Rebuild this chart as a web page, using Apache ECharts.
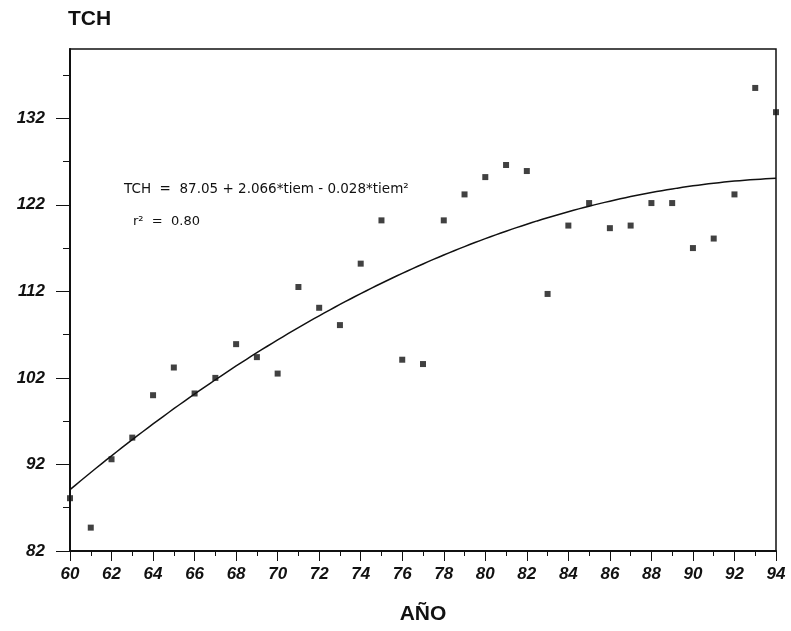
<!DOCTYPE html>
<html>
<head>
<meta charset="utf-8">
<title>TCH por año</title>
<script src="https://cdn.jsdelivr.net/npm/echarts@6/dist/echarts.min.js"></script>
<style>
  html, body { margin: 0; padding: 0; background: #fff; }
  #chart { width: 791px; height: 631px; }
</style>
</head>
<body>
<div id="chart"></div>
<script>
// Observed yield (TCH) per year, 1960–1994
const years = [60, 61, 62, 63, 64, 65, 66, 67, 68, 69, 70, 71, 72, 73, 74, 75, 76, 77,
               78, 79, 80, 81, 82, 83, 84, 85, 86, 87, 88, 89, 90, 91, 92, 93, 94];
const tch = [88.1, 84.7, 92.6, 95.1, 100.0, 103.2, 100.2, 102.0, 105.9, 104.4, 102.5, 112.5,
             110.1, 108.1, 115.2, 120.2, 104.1, 103.6, 120.2, 123.2, 125.2, 126.6, 125.9, 111.7,
             119.6, 122.2, 119.3, 119.6, 122.2, 122.2, 117.0, 118.1, 123.2, 135.5, 132.7];

// Quadratic fit: TCH = b0 + b1*tiem + b2*tiem^2, with tiem = year - 59
const fitCoef = [87.05, 2.066, -0.028];
const fitR2 = 0.80;
const tiemOrigin = 59;

// Axis tick values
const yMajorTicks = [82, 92, 102, 112, 122, 132];
const yMinorTicks = [87, 97, 107, 117, 127, 137];

const fitCurve = [];
for (let k = 0; k <= (years[years.length - 1] - years[0]) * 4; k++) {
  const yr = years[0] + k / 4;
  const t = yr - tiemOrigin;
  fitCurve.push([yr, fitCoef[0] + fitCoef[1] * t + fitCoef[2] * t * t]);
}

const fmt = (v, d) => Math.abs(v).toFixed(d);
const eqText = 'TCH  =  ' + fitCoef[0].toFixed(2) + ' + ' + fmt(fitCoef[1], 3) + '*tiem ' +
  (fitCoef[2] < 0 ? '-' : '+') + ' ' + fmt(fitCoef[2], 3) + '*tiem\u00B2';
const r2Text = 'r\u00B2  =  ' + fitR2.toFixed(2);

const tickFont = {
  color: '#111',
  fontFamily: 'Liberation Sans, Arial, sans-serif',
  fontWeight: 'bold',
  fontStyle: 'italic',
  fontSize: 17
};

const chart = echarts.init(document.getElementById('chart'), null, { renderer: 'canvas' });
chart.setOption({
  animation: false,
  backgroundColor: '#fff',
  title: {
    text: 'TCH',
    left: 68,
    top: 9,
    padding: 0,
    textStyle: { fontFamily: 'Liberation Sans, Arial, sans-serif', fontWeight: 'bold', fontSize: 21, color: '#111' }
  },
  grid: {
    left: 70, right: 15, top: 49, bottom: 80,
    show: true, borderColor: '#111', borderWidth: 1.5, backgroundColor: 'transparent'
  },
  xAxis: {
    type: 'value',
    min: 60, max: 94, interval: 2,
    name: 'AÑO',
    nameLocation: 'middle',
    nameGap: 53,
    nameTextStyle: { fontFamily: 'Liberation Sans, Arial, sans-serif', fontWeight: 'bold', fontSize: 21, color: '#111' },
    axisLine: { show: true, onZero: false, lineStyle: { color: '#111', width: 2 } },
    axisTick: { show: true, length: 10, lineStyle: { color: '#111', width: 1 } },
    minorTick: { show: true, splitNumber: 2, length: 5, lineStyle: { color: '#111', width: 1 } },
    splitLine: { show: false },
    axisLabel: Object.assign({ margin: 15 }, tickFont)
  },
  yAxis: [
    {
      type: 'value',
      min: 82, max: 140, interval: 10,
      axisLine: { show: true, onZero: false, lineStyle: { color: '#111', width: 2 } },
      axisTick: { show: true, length: 14, customValues: yMajorTicks, lineStyle: { color: '#111', width: 1 } },
      splitLine: { show: false },
      axisLabel: Object.assign({ margin: 25, customValues: yMajorTicks }, tickFont)
    },
    {
      type: 'value',
      min: 82, max: 140, interval: 10,
      position: 'left',
      axisLine: { show: false },
      axisTick: { show: true, length: 7, customValues: yMinorTicks, lineStyle: { color: '#111', width: 1 } },
      axisLabel: { show: false },
      splitLine: { show: false }
    }
  ],
  graphic: [
    {
      type: 'text', left: 124, top: 182,
      style: { text: eqText, fill: '#111', font: '13.5px "DejaVu Sans", sans-serif' }
    },
    {
      type: 'text', left: 133, top: 215,
      style: { text: r2Text, fill: '#111', font: '13px "DejaVu Sans", sans-serif' }
    }
  ],
  series: [
    {
      type: 'line',
      data: fitCurve,
      showSymbol: false,
      smooth: false,
      lineStyle: { color: '#111', width: 1.5 },
      z: 2
    },
    {
      type: 'scatter',
      data: years.map((y, i) => [y, tch[i]]),
      symbol: 'rect',
      symbolSize: 6,
      itemStyle: { color: '#111' },
      z: 3
    }
  ]
});
</script>
</body>
</html>
